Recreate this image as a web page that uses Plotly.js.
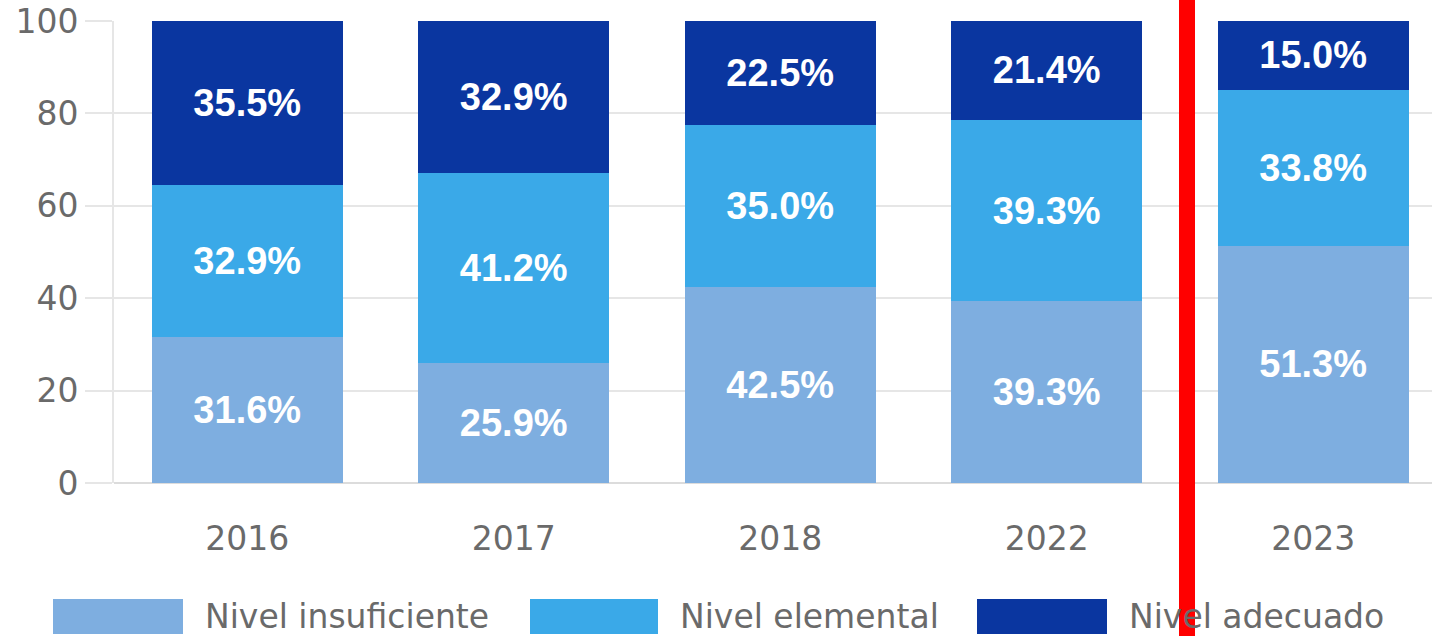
<!DOCTYPE html>
<html>
<head>
<meta charset="utf-8">
<script src="https://cdn.plot.ly/plotly-3.0.1.min.js"></script>
<style>html,body{margin:0;padding:0;background:#fff;}#chart{width:1432px;height:636px;}</style>
</head>
<body>
<div id="chart"></div>
<script>
const years = ['2016', '2017', '2018', '2022', '2023'];
const seriesNames = ['Nivel insuficiente', 'Nivel elemental', 'Nivel adecuado'];
const insuficiente = [31.6, 25.9, 42.5, 39.3, 51.3];
const elemental = [32.9, 41.2, 35.0, 39.3, 33.8];
const adecuado = [35.5, 32.9, 22.5, 21.4, 15.0];
const yTicks = [0, 20, 40, 60, 80, 100];

const colors = ['#7eaee0', '#3aa9e8', '#0a36a0'];
const values = [insuficiente, elemental, adecuado];

const traces = values.map((v, i) => ({
  type: 'bar',
  name: seriesNames[i],
  x: years,
  y: v,
  marker: {color: colors[i], line: {width: 0}},
  text: v.map(d => d.toFixed(1) + '%'),
  textposition: 'inside',
  insidetextanchor: 'middle',
  textangle: 0,
  constraintext: 'none',
  textfont: {family: 'Liberation Sans, Arial, sans-serif', size: 38, color: '#ffffff', weight: 'bold'},
  hoverinfo: 'skip',
  showlegend: false
}));

const gridColor = '#e6e6e6';
const textGray = '#6a6a6a';

const T = 21, B = 483, H = B - T;

// Legend drawn as shapes + annotations
const legendSwatches = [[53, 183], [530, 658], [977, 1107]];
const legendShapes = legendSwatches.map((s, i) => ({
  type: 'rect', xref: 'paper', yref: 'paper', layer: 'above',
  x0: (s[0] - 114) / 1318, x1: (s[1] - 114) / 1318,
  y0: -(599 - B) / H, y1: -(634 - B) / H,
  fillcolor: colors[i], line: {width: 0}
}));
const legendAnn = legendSwatches.map((s, i) => ({
  xref: 'paper', yref: 'paper', x: (s[1] + 20 - 114) / 1318, y: -(616 - B) / H,
  xanchor: 'left', yanchor: 'middle', showarrow: false,
  text: seriesNames[i],
  font: {family: 'DejaVu Sans, sans-serif', size: 33, color: textGray}
}));

const layout = {
  width: 1432, height: 636,
  margin: {l: 114, r: 0, t: T, b: 636 - B},
  paper_bgcolor: '#ffffff', plot_bgcolor: '#ffffff',
  barmode: 'stack',
  bargap: 0.283,
  showlegend: false,
  xaxis: {
    type: 'category',
    range: [-0.5, 4.446],
    showgrid: false, zeroline: false, showline: false,
    ticks: '',
    ticklabelstandoff: 33,
    tickfont: {family: 'DejaVu Sans, sans-serif', size: 33, color: textGray}
  },
  yaxis: {
    range: [0, 100],
    tickvals: yTicks,
    ticktext: yTicks.map(String),
    ticklabeloverflow: 'allow',
    showgrid: true, gridcolor: gridColor, gridwidth: 2,
    zeroline: true, zerolinecolor: '#dcdcdc', zerolinewidth: 2,
    showline: true, linecolor: gridColor, linewidth: 2,
    ticks: 'outside', ticklen: 27, tickcolor: gridColor, tickwidth: 2,
    ticklabelstandoff: 0,
    tickfont: {family: 'DejaVu Sans, sans-serif', size: 33, color: textGray}
  },
  shapes: legendShapes.concat([{
    type: 'line', xref: 'paper', yref: 'paper', layer: 'above',
    x0: (1187 - 114) / 1318, x1: (1187 - 114) / 1318,
    y0: 30 / H + 1, y1: -170 / H,
    line: {color: '#ff0000', width: 16}
  }]),
  annotations: legendAnn
};

Plotly.newPlot('chart', traces, layout, {displayModeBar: false, staticPlot: true});
</script>
</body>
</html>
